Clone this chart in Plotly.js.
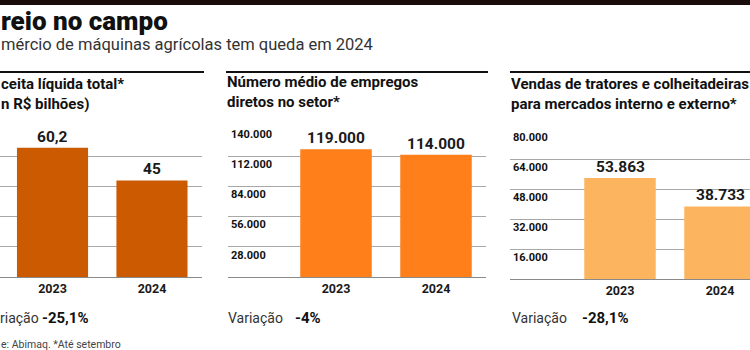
<!DOCTYPE html>
<html>
<head>
<meta charset="utf-8">
<script src="https://cdn.plot.ly/plotly-3.0.1.min.js"></script>
<style>html,body{margin:0;padding:0;background:#fff}#chart{width:750px;height:350px}</style>
</head>
<body>
<div id="chart"></div>
<script>
// ---- data ----
const years = ["2023", "2024"];
const receita = [60.2, 45];            // R$ bilhões
const empregos = [119000, 114000];     // empregos diretos
const vendas = [53863, 38733];         // tratores e colheitadeiras
const receitaTicks = [14, 28, 42, 56, 70];
const empregosTicks = [28000, 56000, 84000, 112000, 140000];
const vendasTicks = [16000, 32000, 48000, 64000, 80000];
const variacoes = ["-25,1%", "-4%", "-28,1%"];
const variacaoLabels = ["riação", "Variação", "Variação"];
const headline = "reio no campo";
const subtitle = "mércio de máquinas agrícolas tem queda em 2024";
const panelTitles = [
  "ceita líquida total*<br>n R$ bilhões)",
  "Número médio de empregos<br>diretos no setor*",
  "Vendas de tratores e colheitadeiras<br>para mercados interno e externo*"
];
const footnote = "e: Abimaq. *Até setembro";

const W = 750, H = 350;
const px = x => x / W;
const py = y => 1 - y / H;
const FONT = "Roboto, 'Open Sans', sans-serif";
const TXT = "#1a1a1a";

function bar(xa, ya, y, color) {
  return {
    type: "bar", x: years, y: y, xaxis: xa, yaxis: ya,
    marker: {color: color}, width: 0.715,
    cliponaxis: true, hoverinfo: "skip"
  };
}

const data = [
  bar("x", "y", receita, "#CC5A00"),
  bar("x2", "y2", empregos, "#FF7F1A"),
  bar("x3", "y3", vendas, "#FDB45F")
];

function fmt(v) {
  // Brazilian number format: decimal comma, dot thousands
  const parts = String(v).split(".");
  parts[0] = parts[0].replace(/\B(?=(\d{3})+(?!\d))/g, ".");
  return parts.join(",");
}

function xax(domain, range, anchor) {
  return {
    domain: domain, range: range, type: "category", anchor: anchor,
    showgrid: false, zeroline: false, showline: true, linecolor: "#8a8a8a", linewidth: 1,
    ticks: "", tickfont: {family: FONT, size: 12.5, color: TXT, weight: "bold"},
    fixedrange: true
  };
}
function yax(domain, range, ticks, show, anchor) {
  return {
    domain: domain, range: range, anchor: anchor,
    tickvals: ticks, showticklabels: show, tickformat: ",",
    ticklabelposition: "inside bottom",
    tickfont: {family: FONT, size: 11, color: "#111", weight: "bold"},
    showgrid: true, gridcolor: "#a8a8a8", gridwidth: 1,
    zeroline: false, showline: false, ticks: "", fixedrange: true
  };
}

const dom1 = [py(277), py(126.7)];
const dom3 = [py(279), py(129)];

const annotations = [];
// value labels, positioned in data coordinates (category index i)
[[receita, "x", "y"], [empregos, "x2", "y2"], [vendas, "x3", "y3"]].forEach(([vals, xr, yr]) => {
  vals.forEach((v, i) => {
    annotations.push({
      xref: xr, yref: yr, x: i, y: v, text: fmt(v), showarrow: false,
      xanchor: "center", yanchor: "bottom", yshift: 0,
      font: {family: FONT, size: 15.5, color: TXT, weight: "bold"}
    });
  });
});
function txt(x, y, text, size, weight, color) {
  annotations.push({
    xref: "paper", yref: "paper", x: px(x), y: py(y), text: text, showarrow: false,
    xanchor: "left", yanchor: "middle", align: "left",
    font: {family: FONT, size: size, color: color || TXT, weight: weight}
  });
}
txt(-1, 21, headline, 26, 900, "#111");
txt(-1, 45, subtitle, 16.5, "normal", "#333");
txt(-1, 94, panelTitles[0], 15, "bold", "#111");
txt(225, 92, panelTitles[1], 15, "bold", "#111");
txt(509, 94, panelTitles[2], 15, "bold", "#111");
txt(-2, 318, variacaoLabels[0], 14, "normal", "#333");
txt(40, 318, variacoes[0], 15, "bold", "#111");
txt(226, 318, variacaoLabels[1], 14, "normal", "#333");
txt(293, 318, variacoes[1], 15, "bold", "#111");
txt(510, 318, variacaoLabels[2], 14, "normal", "#333");
txt(580, 318, variacoes[2], 15, "bold", "#111");
txt(-1, 344, footnote, 10.5, "normal", "#444");

const shapes = [
  {type: "rect", xref: "paper", yref: "paper", x0: 0, x1: 1, y0: py(5), y1: 1, fillcolor: "#1a0c0a", line: {width: 0}},
  {type: "line", xref: "paper", yref: "paper", x0: px(0), x1: px(204), y0: py(72), y1: py(72), line: {color: "#111", width: 2}},
  {type: "line", xref: "paper", yref: "paper", x0: px(226), x1: px(488), y0: py(72), y1: py(72), line: {color: "#111", width: 2}},
  {type: "line", xref: "paper", yref: "paper", x0: px(510), x1: px(750), y0: py(72), y1: py(72), line: {color: "#111", width: 2}}
];

const layout = {
  width: W, height: H, margin: {l: 0, r: 0, t: 0, b: 0},
  paper_bgcolor: "#fff", plot_bgcolor: "rgba(0,0,0,0)",
  separators: ",.", showlegend: false,
  font: {family: FONT, color: TXT},
  xaxis: xax([px(0), px(202)], [-0.528, 1.503], "y"),
  yaxis: yax(dom1, [0, 70.05], receitaTicks, false, "x"),
  xaxis2: xax([px(228), px(486)], [-1.08, 1.5], "y2"),
  yaxis2: yax(dom1, [0, 140100], empregosTicks, true, "x2"),
  xaxis3: xax([px(510), 1], [-1.1, 1.3], "y3"),
  yaxis3: yax(dom3, [0, 80060], vendasTicks, true, "x3"),
  annotations: annotations, shapes: shapes
};

Plotly.newPlot("chart", data, layout, {staticPlot: true, displayModeBar: false});
</script>
</body>
</html>
